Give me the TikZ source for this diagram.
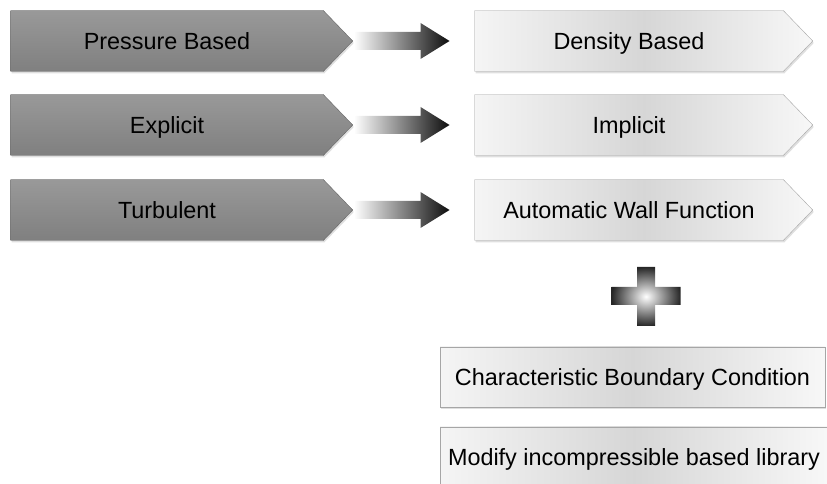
\documentclass[tikz,border=0pt]{standalone}
\usepackage{fontspec}
\setmainfont{Liberation Sans}
\usepackage{tikz}
\usetikzlibrary{positioning, calc, shapes, shapes.arrows, shadows}
\tikzstyle{FadeArrow} = [
%Create shaded arrow style:
left color = white, middle color = black!72, right color = black!95
]

\begin{document}
\begin{tikzpicture}[x = 1pt, y = 1pt,
			box/.style = {signal, signal to = east, signal pointer angle = 92, inner sep = 0pt, minimum height = 61pt, text height = 16.6pt, text depth = 0pt, font = \fontsize{23.4}{27}\selectfont, drop shadow = {opacity = 0.25, shadow xshift = 1pt, shadow yshift = -2pt}},
			dark/.style = {box, draw = black!60, top color = black!40, bottom color = black!50, minimum width = 342pt},
			light/.style = {box, draw = black!35, left color = black!4, right color = black!3, middle color = black!16, minimum width = 338pt},
			plain/.style = {rectangle, draw = black!35, left color = black!4, right color = black!3, middle color = black!16, inner sep = 0pt, minimum height = 60pt, text height = 16.6pt, text depth = 0pt, font = \fontsize{23.4}{27}\selectfont, drop shadow = {opacity = 0.25, shadow xshift = 1pt, shadow yshift = -2pt}},
		]
		\useasboundingbox (0,0) rectangle (827,484);
		\clip (0,0) rectangle (827,484);

		\node[dark](PB) at (167,443){Pressure Based};
		\node[dark](EX) at (167,359){Explicit};
		\node[dark](TU) at (167,274){Turbulent};

		\node[light](DB) at (629,443){Density Based};
		\node[light](IM) at (629,359){Implicit};
		\node[light](AW) at (629,274){Automatic Wall Function};

		\node[plain, minimum width = 385pt](CB) at (632.5,107){Characteristic Boundary Condition};
		\node[plain, minimum width = 388pt](MI) at (634,27){Modify incompressible based library};

		\foreach \a/\b in {PB/DB, EX/IM, TU/AW}{
			\shade[FadeArrow] ($(\a.east)+(1,9)$) -- ($(\b.west)+(-54,9)$) -- ($(\b.west)+(-54,18)$) -- ($(\b.west)+(-25,0)$) -- ($(\b.west)+(-54,-18)$) -- ($(\b.west)+(-54,-9)$) -- ($(\a.east)+(1,-9)$) -- cycle;
		}

		\coordinate(PL) at (646,188);
		\shade[shift = {(PL)}, inner color = white, outer color = black!85] (-9,29) -- (9,29) -- (9,9) -- (34.5,9) -- (34.5,-9) -- (9,-9) -- (9,-30) -- (-9,-30) -- (-9,-9) -- (-34.5,-9) -- (-34.5,9) -- (-9,9) -- cycle;

	\end{tikzpicture}
\end{document}
